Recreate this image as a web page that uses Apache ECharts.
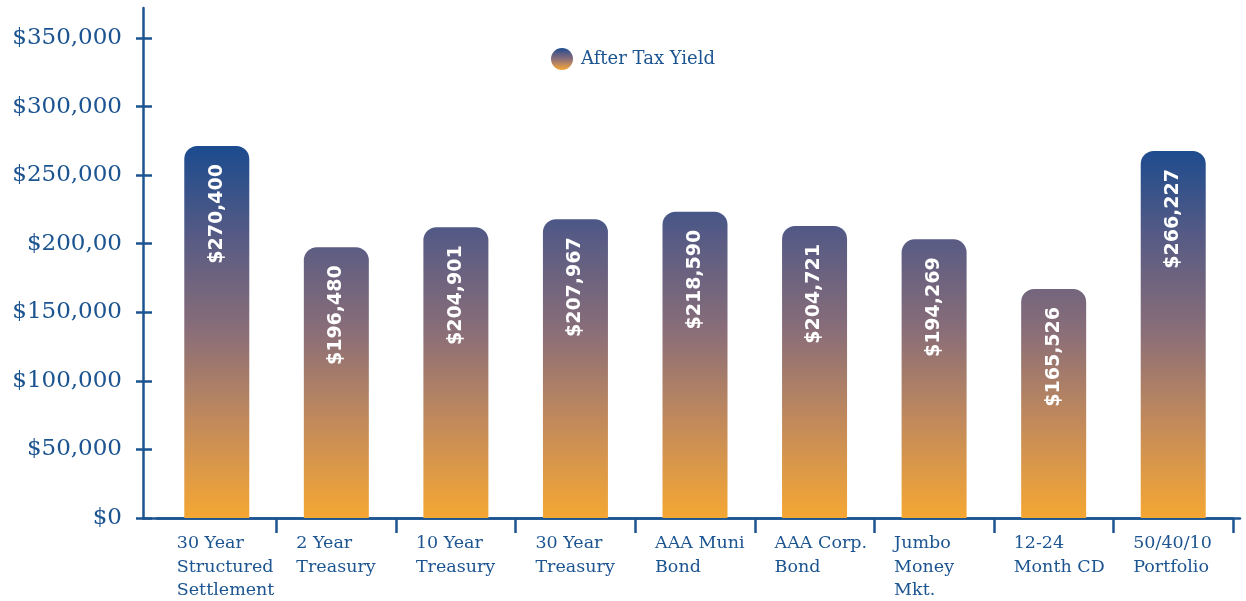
<!DOCTYPE html>
<html>
<head>
<meta charset="utf-8">
<script src="https://cdn.jsdelivr.net/npm/echarts@6/dist/echarts.min.js"></script>
<style>
  html, body { margin: 0; padding: 0; background: #fff; }
  #chart { width: 1246px; height: 601px; }
</style>
</head>
<body>
<div id="chart"></div>
<script>
// data
const categories = [
  '30 Year\nStructured\nSettlement', '2 Year\nTreasury', '10 Year\nTreasury',
  '30 Year\nTreasury', 'AAA Muni\nBond', 'AAA Corp.\nBond',
  'Jumbo\nMoney\nMkt.', '12-24\nMonth CD', '50/40/10\nPortfolio'
]
// bar heights as drawn
const barValues = [271250, 197400, 212000, 217800, 223300, 212900, 203200, 167000, 267600]
// text printed inside the bars
const barLabels = ['$270,400', '$196,480', '$204,901', '$207,967', '$218,590', '$204,721', '$194,269', '$165,526', '$266,227']
const yTickValues = [0, 50000, 100000, 150000, 200000, 250000, 300000, 350000]
const yTickLabels = ['$0', '$50,000', '$100,000', '$150,000', '$200,00', '$250,000', '$300,000', '$350,000']
const seriesName = 'After Tax Yield'

const yMax = 371875 // axis line runs a bit past the last tick
const blue = '#1b5490'
const serif = '"DejaVu Serif", serif'

const chart = echarts.init(document.getElementById('chart'))

const gradStops = [
  { offset: 0, color: '#1b4b8f' },
  { offset: 0.25, color: '#585b84' },
  { offset: 0.5, color: '#8a6e78' },
  { offset: 0.75, color: '#c48b5a' },
  { offset: 1, color: '#f5a733' }
]

const option = {
  animation: false,
  legend: {
    left: 546,
    top: 43,
    itemWidth: 22,
    itemHeight: 22,
    icon: 'circle',
    textStyle: { color: blue, fontSize: 18, fontFamily: serif, padding: [0, 0, 0, 3] },
    data: [{
      name: seriesName,
      itemStyle: { color: new echarts.graphic.LinearGradient(0, 0, 0, 1, gradStops) }
    }]
  },
  grid: [
    // bars
    { left: 157, right: 13, top: 8, bottom: 83 },
    // full-length axis lines
    { left: 143, right: 6, top: 8, bottom: 83 }
  ],
  xAxis: [
    {
      type: 'category',
      gridIndex: 0,
      data: categories,
      axisLine: { show: true, lineStyle: { color: blue, width: 2.5 } },
      axisTick: {
        show: true,
        length: 15,
        // no tick at the corner with the y axis
        interval: function (i) { return i > 0 },
        lineStyle: { color: blue, width: 2.5 }
      },
      axisLabel: {
        interval: 0,
        margin: 14,
        align: 'center',
        width: 80,
        formatter: function (v) {
          return v.split('\n').map(function (s) { return '{l|' + s + '}' }).join('\n')
        },
        rich: {
          l: { align: 'left', color: blue, fontSize: 17.5, lineHeight: 23.5, fontFamily: serif }
        }
      }
    },
    {
      type: 'value',
      gridIndex: 1,
      min: 0,
      max: 1,
      axisLine: { show: true, onZero: false, lineStyle: { color: blue, width: 2.5 } },
      axisTick: { show: false },
      axisLabel: { show: false },
      splitLine: { show: false }
    }
  ],
  yAxis: [
    {
      type: 'value',
      gridIndex: 0,
      min: 0,
      max: yMax,
      offset: 14,
      axisLine: { show: false },
      axisTick: { show: true, inside: true, length: 9, customValues: yTickValues, lineStyle: { color: blue, width: 2.5 } },
      axisLabel: { show: false },
      splitLine: { show: false }
    },
    {
      type: 'value',
      gridIndex: 1,
      min: 0,
      max: yMax,
      axisLine: { show: true, lineStyle: { color: blue, width: 2.5 } },
      axisTick: { show: true, length: 7, customValues: yTickValues, lineStyle: { color: blue, width: 2.5 } },
      axisLabel: {
        customValues: yTickValues,
        margin: 21,
        color: blue,
        fontSize: 23,
        fontFamily: serif,
        formatter: function (v) {
          return yTickLabels[yTickValues.indexOf(v)]
        }
      },
      splitLine: { show: false }
    }
  ],
  series: [
    {
      name: seriesName,
      type: 'bar',
      xAxisIndex: 0,
      yAxisIndex: 0,
      barWidth: 65,
      data: barValues,
      itemStyle: {
        borderRadius: [13, 13, 0, 0],
        // one gradient for the whole plot, so short bars start lighter
        color: new echarts.graphic.LinearGradient(0, 146, 0, 518, gradStops, true)
      },
      label: {
        show: true,
        position: 'insideTop',
        distance: 18,
        rotate: 90,
        align: 'right',
        verticalAlign: 'middle',
        color: '#fff',
        fontSize: 19,
        fontWeight: 'bold',
        fontFamily: '"DejaVu Sans", sans-serif',
        formatter: function (p) {
          return barLabels[p.dataIndex]
        }
      }
    }
  ]
}

chart.setOption(option)
</script>
</body>
</html>
